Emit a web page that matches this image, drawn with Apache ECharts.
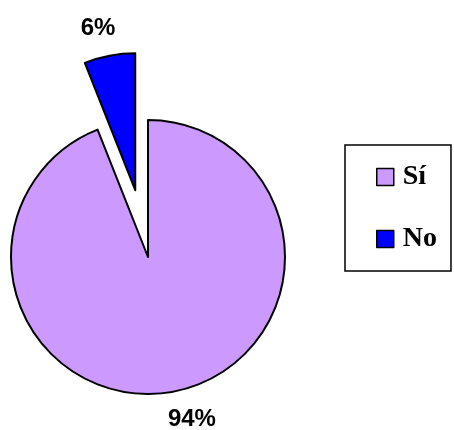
<!DOCTYPE html>
<html>
<head>
<meta charset="utf-8">
<script src="https://cdn.jsdelivr.net/npm/echarts@6/dist/echarts.min.js"></script>
<style>html,body{margin:0;padding:0;background:#fff;}#c{width:454px;height:430px;}</style>
</head>
<body>
<div id="c"></div>
<script>
const categories = ['Sí', 'No'];
const values = [94, 6];
const labels = ['94%', '6%'];
const colors = ['#CC99FF', '#0000FF'];
const exploded = [false, true];

const chart = echarts.init(document.getElementById('c'), null, {renderer: 'canvas'});
chart.setOption({
  backgroundColor: '#ffffff',
  animation: false,
  legend: {
    orient: 'vertical',
    left: 345,
    top: 145,
    padding: [18, 14, 18, 31],
    borderColor: '#000',
    borderWidth: 1.5,
    borderRadius: 0,
    itemWidth: 17,
    itemHeight: 17,
    itemGap: 34,
    icon: 'rect',
    selectedMode: false,
    data: categories,
    itemStyle: {borderColor: '#000', borderWidth: 1.5},
    textStyle: {fontFamily: 'Liberation Serif', fontWeight: 'bold', fontSize: 28, color: '#000', padding: [0, 0, 0, 4]}
  },
  series: [{
    type: 'pie',
    center: [148, 257],
    radius: 137,
    startAngle: 90,
    clockwise: true,
    selectedMode: 'multiple',
    selectedOffset: 68,
    avoidLabelOverlap: false,
    emphasis: {disabled: true},
    itemStyle: {borderColor: '#000', borderWidth: 2},
    label: {
      show: true,
      position: 'outside',
      distanceToLabelLine: 0,
      fontFamily: 'Liberation Sans',
      fontWeight: 'bold',
      fontSize: 24,
      color: '#000',
      formatter: p => labels[p.dataIndex]
    },
    labelLine: {show: false, length: 28, length2: 0},
    labelLayout: p => ({dx: p.dataIndex === 0 ? -11 : 11}),
    data: categories.map((c, i) => ({
      name: c,
      value: values[i],
      selected: exploded[i],
      itemStyle: {color: colors[i]}
    }))
  }]
});
</script>
</body>
</html>
